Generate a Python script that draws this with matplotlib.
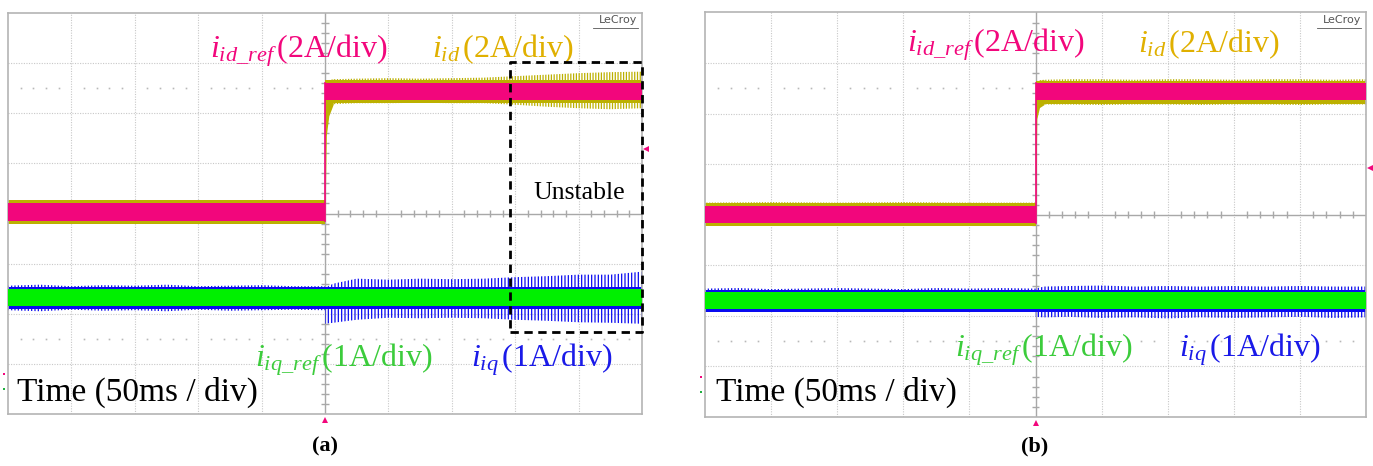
import numpy as np
import matplotlib
matplotlib.use('Agg')
import matplotlib.pyplot as plt

plt.rcParams['font.family'] = ['Liberation Serif', 'DejaVu Serif']
plt.rcParams['mathtext.fontset'] = 'custom'
plt.rcParams['mathtext.rm'] = 'Liberation Serif'
plt.rcParams['mathtext.it'] = 'Liberation Serif:italic'
plt.rcParams['hatch.linewidth'] = 0.9

# ---------------- data (oscilloscope divisions: x in [-5,5], y in [-4,4]) ----------------
PINK_T = [-5.0, 0.0, 0.0, 5.0]
A_PINK_UP = [0.21, 0.21, 2.61, 2.61]
A_PINK_LO = [-0.14, -0.14, 2.27, 2.27]
B_PINK_UP = [0.18, 0.18, 2.60, 2.60]
B_PINK_LO = [-0.16, -0.16, 2.26, 2.26]

GOLD_T = [-5.0, -4.0, -3.0, -2.0, -1.0, 0.0, 0.0, 0.02, 0.06, 0.13,
          0.5, 1.0, 1.5, 2.0, 2.5, 3.0, 3.5, 4.0, 4.5, 5.0]
A_GOLD_UP = [0.25, 0.26, 0.25, 0.26, 0.25, 0.25, 2.50, 2.62, 2.66, 2.68,
             2.69, 2.70, 2.69, 2.70, 2.71, 2.74, 2.77, 2.80, 2.82, 2.83]
A_GOLD_LO = [-0.19, -0.20, -0.19, -0.20, -0.19, -0.19, -0.19, 1.55, 1.95, 2.18,
             2.20, 2.20, 2.21, 2.20, 2.20, 2.17, 2.13, 2.10, 2.08, 2.10]
B_GOLD_UP = [0.24, 0.25, 0.24, 0.25, 0.24, 0.24, 2.55, 2.64, 2.66, 2.67,
             2.68, 2.68, 2.67, 2.68, 2.68, 2.67, 2.68, 2.68, 2.67, 2.68]
B_GOLD_LO = [-0.21, -0.22, -0.21, -0.22, -0.21, -0.21, -0.21, 1.90, 2.12, 2.18,
             2.18, 2.17, 2.18, 2.18, 2.17, 2.18, 2.18, 2.17, 2.18, 2.18]

GREEN_T = [-5.0, 5.0]
A_GREEN_UP = [-1.50, -1.50]
A_GREEN_LO = [-1.84, -1.84]
B_GREEN_UP = [-1.53, -1.53]
B_GREEN_LO = [-1.86, -1.86]

BLUE_T = [-5.0, -4.5, -4.0, -3.5, -3.0, -2.5, -2.0, -1.5, -1.0, -0.5, 0.0,
          0.0, 0.13, 0.5, 1.0, 1.5, 2.0, 2.5, 3.0, 3.5, 4.0, 4.5, 5.0]
A_BLUE_UP = [-1.44, -1.42, -1.45, -1.43, -1.44, -1.42, -1.45, -1.44, -1.43, -1.45, -1.45,
             -1.48, -1.40, -1.30, -1.32, -1.30, -1.31, -1.30, -1.27, -1.25, -1.22, -1.22, -1.16]
A_BLUE_LO = [-1.93, -1.95, -1.92, -1.94, -1.93, -1.95, -1.92, -1.94, -1.93, -1.92, -1.93,
             -2.20, -2.18, -2.12, -2.08, -2.09, -2.08, -2.09, -2.12, -2.14, -2.17, -2.18, -2.20]
B_BLUE_UP = [-1.46, -1.45, -1.47, -1.46, -1.45, -1.46, -1.47, -1.45, -1.46, -1.45, -1.46,
             -1.46, -1.42, -1.41, -1.40, -1.42, -1.41, -1.42, -1.41, -1.42, -1.41, -1.42, -1.42]
B_BLUE_LO = [-1.91, -1.92, -1.90, -1.91, -1.92, -1.91, -1.90, -1.92, -1.91, -1.90, -1.91,
             -2.02, -2.03, -2.02, -2.04, -2.03, -2.05, -2.03, -2.04, -2.03, -2.02, -2.04, -2.03]

# unstable box (panel a), divisions
BOX_X = [2.92, 5.0]
BOX_Y = [-2.37, 3.02]

TRIG_LEVEL = {'a': 1.29, 'b': 0.93}

LABEL_ID_REF = r'$i_{id\_ref}\,$(2A/div)'
LABEL_ID = r'$i_{id}\,$(2A/div)'
LABEL_IQ_REF = r'$i_{iq\_ref}\,$(1A/div)'
LABEL_IQ = r'$i_{iq}\,$(1A/div)'
LABEL_TIME = 'Time (50ms / div)'
CAPTIONS = ['(a)', '(b)']

C_PINK = '#f2067c'
C_GOLD = '#bcb000'
C_GOLD_TXT = '#e0b000'
C_GREEN = '#00f000'
C_GREEN_TXT = '#3ccc3c'
C_BLUE = '#0a0af0'
C_BLUE_TXT = '#1a1ae8'

W, H = 1373, 466
fig = plt.figure(figsize=(W / 100, H / 100), dpi=100)
fig.patch.set_facecolor('white')


def make_axes(left, right, top, bottom):
    return fig.add_axes([left / W, (H - bottom) / H, (right - left) / W, (bottom - top) / H])


def draw_scope(ax, d, pl):
    ax.set_xlim(-5, 5)
    ax.set_ylim(-4, 4)
    ax.set_xticks([])
    ax.set_yticks([])
    for s in ax.spines.values():
        s.set_color('#b4b4b4')
        s.set_linewidth(1.2)
    # dotted grid
    for gx in range(-4, 5):
        if gx != 0:
            ax.axvline(gx, color='#c8c8c8', lw=0.8, ls=(0, (1, 1.3)), zorder=0)
    for gy in range(-3, 4):
        if gy != 0:
            ax.axhline(gy, color='#c8c8c8', lw=0.8, ls=(0, (1, 1.3)), zorder=0)
    # centre axes with minor ticks
    ax.axhline(0, color='#a8a8a8', lw=1.0, zorder=0)
    ax.axvline(0, color='#a8a8a8', lw=1.0, zorder=0)
    minor = [m / 5 for m in range(-25, 26) if m % 5 != 0]
    ax.vlines(minor, -0.07, 0.07, color='#a8a8a8', lw=1.0, zorder=0)
    my = [v for v in minor if abs(v) < 4]
    ax.hlines(my, -0.06, 0.06, color='#a8a8a8', lw=1.0, zorder=0)
    # dot rows at +-2.5
    dots = [v for v in minor if abs(v) < 5]
    for yy in (2.5, -2.5):
        ax.plot(dots, [yy] * len(dots), ls='none', marker='s', ms=1.2,
                color='#b8b8b8', mew=0, zorder=0)

    # gold (i_d) trace
    ax.fill_between(GOLD_T, d['gold_lo'], d['gold_up'], facecolor='none',
                    edgecolor=C_GOLD, hatch='||||||', lw=0, zorder=2)
    ax.fill_between(PINK_T, np.array(d['pink_lo']) - 0.06, np.array(d['pink_up']) + 0.05,
                    color=C_GOLD, lw=0, zorder=2)
    ax.fill_between(GOLD_T[6:10], d['gold_lo'][6:10], d['gold_up'][6:10], color=C_GOLD, lw=0, zorder=2)
    # pink (i_d_ref)
    ax.fill_between(PINK_T, d['pink_lo'], d['pink_up'], color=C_PINK, lw=0, zorder=3)
    ax.plot([0, 0], [d['pink_lo'][0], d['pink_up'][2]], color=C_PINK, lw=1.2, zorder=3)

    # blue (i_q)
    ax.fill_between(BLUE_T, d['blue_lo'], d['blue_up'], facecolor='none',
                    edgecolor=C_BLUE, hatch='|||||', lw=0, zorder=2)
    ax.fill_between(GREEN_T, np.array(d['green_lo']) - 0.06, np.array(d['green_up']) + 0.04,
                    color=C_BLUE, lw=0, zorder=2)
    # green (i_q_ref)
    ax.fill_between(GREEN_T, d['green_lo'], d['green_up'], color=C_GREEN, lw=0, zorder=3)

    # markers
    ax.plot([0], [-4.12], marker='^', ms=5, color=C_PINK, mew=0, clip_on=False, zorder=5)
    ax.plot([5.06], [d['trig']], marker='<', ms=5, color=C_PINK, mew=0, clip_on=False, zorder=5)
    ax.plot([-5.06], [-3.2], marker='s', ms=2, color=C_PINK, mew=0, clip_on=False, zorder=5)
    ax.plot([-5.06], [-3.5], marker='s', ms=2, color='#20b040', mew=0, clip_on=False, zorder=5)

    # LeCroy logo
    ax.text(4.93, 3.86, 'LeCroy', family='DejaVu Sans', fontsize=8, color='#555555',
            ha='right', va='center')
    ax.plot([pl['lc0'], 4.93], [3.70, 3.70], color='#555555', lw=0.6)

    # labels
    ax.text(pl['pink_x'], pl['top_y'], LABEL_ID_REF, color=C_PINK, fontsize=23, va='baseline')
    ax.text(pl['gold_x'], pl['top_y'], LABEL_ID, color=C_GOLD_TXT, fontsize=23, va='baseline')
    ax.text(pl['green_x'], pl['bot_y'], LABEL_IQ_REF, color=C_GREEN_TXT, fontsize=23, va='baseline')
    ax.text(pl['blue_x'], pl['bot_y'], LABEL_IQ, color=C_BLUE_TXT, fontsize=23, va='baseline')
    ax.text(pl['time_x'], pl['time_y'], LABEL_TIME, color='black', fontsize=24, va='baseline')


ax_a = make_axes(8, 642, 13, 414)
ax_b = make_axes(705, 1366, 12.5, 417)

data_a = dict(pink_up=A_PINK_UP, pink_lo=A_PINK_LO, gold_up=A_GOLD_UP, gold_lo=A_GOLD_LO,
              green_up=A_GREEN_UP, green_lo=A_GREEN_LO, blue_up=A_BLUE_UP, blue_lo=A_BLUE_LO,
              trig=TRIG_LEVEL['a'])
data_b = dict(pink_up=B_PINK_UP, pink_lo=B_PINK_LO, gold_up=B_GOLD_UP, gold_lo=B_GOLD_LO,
              green_up=B_GREEN_UP, green_lo=B_GREEN_LO, blue_up=B_BLUE_UP, blue_lo=B_BLUE_LO,
              trig=TRIG_LEVEL['b'])
pl_a = dict(pink_x=-1.81, gold_x=1.69, green_x=-1.10, blue_x=2.31, top_y=3.12, bot_y=-3.06,
            time_x=-4.86, time_y=-3.74, lc0=4.22)
pl_b = dict(pink_x=-1.94, gold_x=1.55, green_x=-1.22, blue_x=2.17, top_y=3.22, bot_y=-2.81,
            time_x=-4.84, time_y=-3.68, lc0=4.26)

draw_scope(ax_a, data_a, pl_a)
draw_scope(ax_b, data_b, pl_b)

# unstable box
ax_a.plot([BOX_X[0], BOX_X[1], BOX_X[1], BOX_X[0], BOX_X[0]],
          [BOX_Y[0], BOX_Y[0], BOX_Y[1], BOX_Y[1], BOX_Y[0]],
          color='black', lw=2.0, ls=(0, (3, 2)), zorder=6, clip_on=False)
ax_a.text(3.28, 0.29, 'Unstable', fontsize=18.5, color='black', va='baseline')

fig.text(325 / W, 1 - 446 / H, CAPTIONS[0], fontsize=16, fontweight='bold', ha='center', va='center')
fig.text(1035 / W, 1 - 446 / H, CAPTIONS[1], fontsize=16, fontweight='bold', ha='center', va='center')

fig.savefig('out.png', dpi=100)
